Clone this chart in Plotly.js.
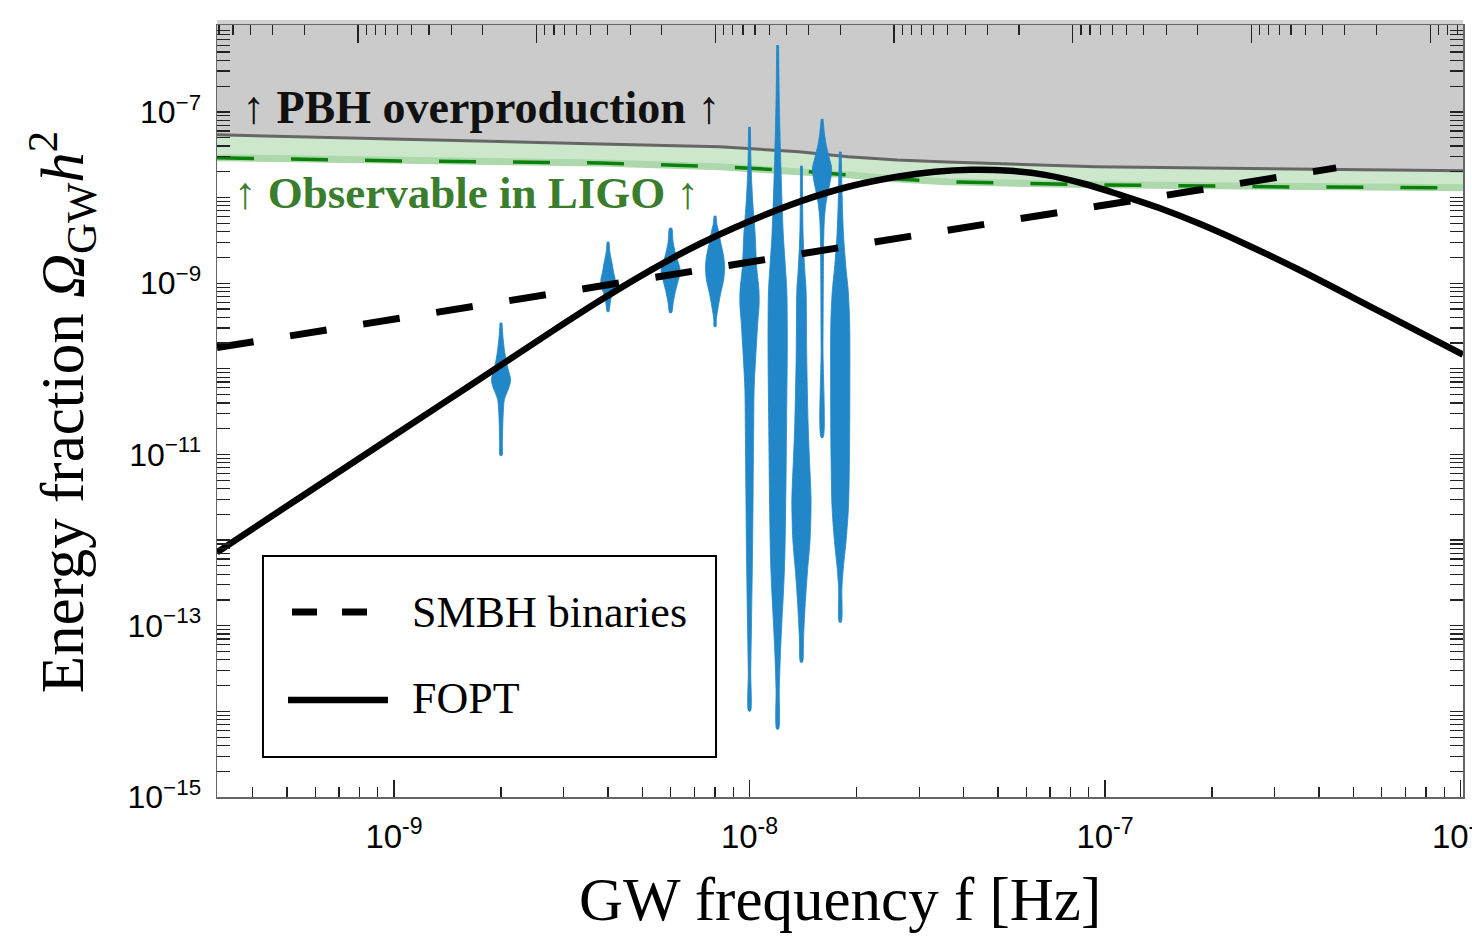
<!DOCTYPE html>
<html>
<head>
<meta charset="utf-8">
<script src="https://cdn.plot.ly/plotly-3.0.1.min.js"></script>
<style>html,body{margin:0;padding:0;background:#fff;}</style>
</head>
<body>
<div id="chart" style="width:1472px;height:937px;"></div>
<script>
// ---------------- data ----------------
// bound curves share one frequency grid [Hz]
const boundFreq = [3.178e-10, 1.040e-9, 3.797e-9, 8.26e-9, 1.377e-8, 1.893e-8, 2.60e-8, 3.593e-8, 9.37e-8, 3.357e-7, 1.016e-6];
const pbhOmega  = [5.40e-8, 4.84e-8, 4.23e-8, 3.91e-8, 3.42e-8, 2.99e-8, 2.75e-8, 2.61e-8, 2.29e-8, 2.16e-8, 2.05e-8];
const ligoOmega = [2.91e-8, 2.68e-8, 2.54e-8, 2.29e-8, 2.05e-8, 1.84e-8, 1.65e-8, 1.53e-8, 1.41e-8, 1.33e-8, 1.30e-8];

// SMBH binaries (dashed)
const smbhFreq  = [3.178e-10, 4.47e-7];
const smbhOmega = [1.77e-10, 2.22e-8];

// FOPT (solid)
const foptFreq  = [3.178e-10, 5.44e-10, 1.040e-9, 1.636e-9, 2.747e-9, 3.797e-9, 5.25e-9, 7.26e-9, 1.004e-8, 1.390e-8, 1.920e-8, 2.655e-8, 3.324e-8, 4.198e-8, 5.404e-8, 6.78e-8, 8.785e-8, 1.102e-7, 1.422e-7, 1.839e-7, 2.444e-7, 3.535e-7, 5.94e-7, 1.016e-6];
const foptOmega = [7.19e-13, 3.15e-12, 1.854e-11, 6.38e-11, 2.647e-10, 6.27e-10, 1.403e-9, 2.89e-9, 5.33e-9, 9.04e-9, 1.356e-8, 1.775e-8, 1.997e-8, 2.107e-8, 2.05e-8, 1.84e-8, 1.44e-8, 1.076e-8, 7.55e-9, 4.97e-9, 2.95e-9, 1.415e-9, 4.65e-10, 1.466e-10];

// PTA violins: frequency, log10(Omega) levels, relative density
const violinFreq = [2e-9, 4e-9, 6e-9, 8e-9, 1e-8, 1.2e-8, 1.4e-8, 1.6e-8, 1.8e-8];
const violinLevels = [
  [-9.461,-9.624,-9.776,-9.927,-10.067,-10.125,-10.207,-10.277,-10.359,-10.475,-10.673,-10.860,-11.012],
  [-8.516,-8.644,-8.761,-8.878,-8.959,-9.041,-9.111,-9.192,-9.274,-9.332],
  [-8.353,-8.376,-8.528,-8.691,-8.808,-8.878,-8.994,-9.111,-9.227,-9.344],
  [-8.213,-8.318,-8.376,-8.528,-8.691,-8.808,-8.959,-9.111,-9.274,-9.426,-9.507],
  [-7.175,-7.653,-8.050,-8.434,-8.819,-9.076,-9.251,-9.461,-9.857,-10.242,-10.627,-11.408,-12.190,-12.959,-13.542,-13.997],
  [-6.219,-6.883,-7.653,-8.434,-9.076,-9.426,-9.857,-10.627,-11.408,-12.190,-12.574,-12.959,-13.356,-13.741,-14.207],
  [-7.630,-8.434,-8.843,-9.076,-9.857,-10.627,-11.023,-11.525,-11.991,-12.376,-12.773,-13.157,-13.426],
  [-7.082,-7.268,-7.385,-7.536,-7.653,-7.758,-7.851,-8.050,-8.236,-8.434,-8.819,-9.776,-10.802],
  [-7.466,-8.050,-8.434,-8.819,-9.076,-9.461,-10.242,-11.023,-11.606,-11.991,-12.376,-12.574,-12.959]
];
const violinDensity = [
  [0.10,0.20,0.35,0.57,0.89,1.00,0.86,0.61,0.35,0.25,0.18,0.14,0.10],
  [0.10,0.20,0.41,0.59,0.75,0.69,0.48,0.28,0.18,0.10],
  [0.10,0.17,0.27,0.60,0.93,1.00,0.73,0.47,0.27,0.10],
  [0.10,0.20,0.33,0.60,0.90,1.00,0.90,0.60,0.33,0.13,0.10],
  [0.10,0.17,0.34,0.59,0.75,0.98,1.00,0.86,0.65,0.48,0.44,0.38,0.31,0.21,0.13,0.10],
  [0.10,0.17,0.34,0.59,0.95,1.00,1.00,0.93,0.86,0.75,0.62,0.44,0.28,0.17,0.10],
  [0.10,0.17,0.34,0.48,0.55,0.69,0.82,1.00,0.90,0.62,0.38,0.21,0.10],
  [0.10,0.26,0.43,0.75,1.00,0.93,0.78,0.43,0.25,0.18,0.14,0.10,0.10],
  [0.10,0.21,0.34,0.59,0.82,0.98,1.00,0.96,0.86,0.62,0.28,0.17,0.10]
];

// tick labels
const xTickVals = [1e-9, 1e-8, 1e-7, 1e-6];
const xTickText = ['10<sup>-9</sup>', '10<sup>-8</sup>', '10<sup>-7</sup>', '10<sup>-6</sup>'];
const yTickVals = [1e-15, 1e-13, 1e-11, 1e-9, 1e-7];
const yTickText = ['10<sup>−15</sup>', '10<sup>−13</sup>', '10<sup>−11</sup>', '10<sup>−9</sup>', '10<sup>−7</sup>'];

const legendLabels = ['SMBH binaries', 'FOPT'];

// ---------------- styling ----------------
const SERIF = 'Liberation Serif, DejaVu Serif, serif';
const VIOLIN_HALF_WIDTH = 0.027; // decades
const BLUE = '#2187c8';

function minorLog(lo, hi, withDecades) {
  const v = [];
  for (let n = lo; n <= hi; n++) {
    const k0 = withDecades ? 1 : 2;
    for (let k = k0; k <= 9; k++) v.push(k * Math.pow(10, n));
  }
  return v;
}

const traces = [];
// LIGO band fill (between LIGO line and PBH line)
traces.push({x: boundFreq, y: ligoOmega, mode: 'lines', line: {width: 0, color: 'rgba(0,0,0,0)'}, hoverinfo: 'skip', showlegend: false});
traces.push({x: boundFreq, y: pbhOmega, mode: 'lines', line: {width: 0, color: 'rgba(0,0,0,0)'}, fill: 'tonexty', fillcolor: '#cde7cd', hoverinfo: 'skip', showlegend: false});
// PBH region fill (up to top of plot)
const lastF = boundFreq[boundFreq.length - 1];
traces.push({x: boundFreq.concat([lastF, boundFreq[0]]), y: pbhOmega.concat([3e-6, 3e-6]), mode: 'lines', fill: 'toself', fillcolor: '#cbcbcb', line: {width: 0, color: 'rgba(0,0,0,0)'}, hoverinfo: 'skip', showlegend: false});
// LIGO lines
traces.push({x: boundFreq, y: ligoOmega, mode: 'lines', line: {width: 7, color: '#acd8ac'}, hoverinfo: 'skip', showlegend: false});
traces.push({x: boundFreq, y: ligoOmega, mode: 'lines', line: {width: 3.5, color: '#0b800b', dash: '37px,37px'}, hoverinfo: 'skip', showlegend: false});
// PBH line
traces.push({x: boundFreq, y: pbhOmega, mode: 'lines', line: {width: 3, color: '#666666'}, hoverinfo: 'skip', showlegend: false});

// violins
violinFreq.forEach(function (f, i) {
  const lv = violinLevels[i], dn = violinDensity[i];
  const xs = [], ys = [];
  for (let j = 0; j < lv.length; j++) { xs.push(f * Math.pow(10, VIOLIN_HALF_WIDTH * dn[j])); ys.push(Math.pow(10, lv[j])); }
  for (let j = lv.length - 1; j >= 0; j--) { xs.push(f * Math.pow(10, -VIOLIN_HALF_WIDTH * dn[j])); ys.push(Math.pow(10, lv[j])); }
  traces.push({x: xs, y: ys, mode: 'lines', fill: 'toself', fillcolor: BLUE, line: {width: 0.8, color: BLUE, shape: 'spline', smoothing: 0.8}, hoverinfo: 'skip', showlegend: false});
});

// SMBH binaries
traces.push({x: smbhFreq, y: smbhOmega, mode: 'lines', name: legendLabels[0], line: {width: 7, color: '#000', dash: '37px,37px'}, showlegend: false});
// FOPT
traces.push({x: foptFreq, y: foptOmega, mode: 'lines', name: legendLabels[1], line: {width: 6.5, color: '#000', shape: 'spline', smoothing: 1}, showlegend: false});
// dummy to show top axis
traces.push({x: [10], y: [1e-20], xaxis: 'x2', mode: 'markers', marker: {opacity: 0}, hoverinfo: 'skip', showlegend: false});

const tickColor = '#222';
const layout = {
  width: 1472, height: 937,
  margin: {l: 217, r: 9, t: 25, b: 140, pad: 0},
  paper_bgcolor: '#fff', plot_bgcolor: '#fff',
  showlegend: false,
  xaxis: {
    type: 'log', range: [-9.4979, -5.993],
    tickmode: 'array', tickvals: xTickVals, ticktext: xTickText,
    ticks: 'inside', ticklen: 17, tickwidth: 1.2, tickcolor: tickColor,
    minor: {ticks: 'inside', ticklen: 10, tickwidth: 1.2, tickcolor: tickColor, tickmode: 'array', tickvals: minorLog(-10, -7, false), showgrid: false},
    showline: true, linecolor: '#666', linewidth: 1.5, mirror: false,
    showgrid: false, zeroline: false,
    ticklabelstandoff: 10, ticklabeloverflow: 'allow',
    tickfont: {family: 'Liberation Sans Narrow, Liberation Sans, Arial, sans-serif', size: 33, color: '#000'}
  },
  xaxis2: {
    type: 'log', overlaying: 'x', side: 'top', anchor: 'y',
    range: [6.789, -0.184],
    tickmode: 'array', tickvals: [1, 10, 100, 1e3, 1e4, 1e5, 1e6, 1e7],
    showticklabels: false,
    ticks: 'inside', ticklen: 18, tickwidth: 1.2, tickcolor: tickColor,
    minor: {ticks: 'inside', ticklen: 10, tickwidth: 1.2, tickcolor: tickColor, tickmode: 'array', tickvals: minorLog(-1, 6, false), showgrid: false},
    showline: true, linecolor: '#666', linewidth: 1.5,
    showgrid: false, zeroline: false
  },
  yaxis: {
    type: 'log', range: [-15, -5.985],
    tickmode: 'array', tickvals: yTickVals, ticktext: yTickText,
    ticks: 'inside', ticklen: 13, tickwidth: 1.2, tickcolor: tickColor,
    minor: {ticks: 'inside', ticklen: 8, tickwidth: 1.2, tickcolor: tickColor, tickmode: 'array', tickvals: minorLog(-15, -7, true), showgrid: false},
    showline: true, linecolor: '#666', linewidth: 1.5, mirror: 'allticks',
    showgrid: false, zeroline: false,
    ticklabelstandoff: 8,
    tickfont: {family: 'Liberation Sans, Arial, sans-serif', size: 32, color: '#000'}
  },
  shapes: [
    // light strip above the top frame
    {type: 'rect', xref: 'paper', yref: 'paper', x0: 0, x1: 1, y0: 1, y1: 1 + 5/772, fillcolor: '#d2d2d2', line: {width: 0}, layer: 'below'},
    // legend box
    {type: 'rect', xref: 'paper', yref: 'paper', x0: 0.0369, x1: 0.4005, y0: 0.0518, y1: 0.3122, fillcolor: '#fff', line: {color: '#000', width: 2}},
    {type: 'line', xref: 'paper', yref: 'paper', x0: 0.0602, x1: 0.1204, y0: 0.2396, y1: 0.2396, line: {color: '#000', width: 7, dash: '25px,25px'}},
    {type: 'line', xref: 'paper', yref: 'paper', x0: 0.057, x1: 0.1372, y0: 0.1256, y1: 0.1256, line: {color: '#000', width: 6.5}}
  ],
  annotations: [
    {xref: 'paper', yref: 'paper', x: 0.0185, y: 0.8925, xanchor: 'left', yanchor: 'middle', showarrow: false,
     text: '<b>↑ PBH overproduction ↑</b>', font: {family: SERIF, size: 46, color: '#111'}},
    {xref: 'paper', yref: 'paper', x: 0.012, y: 0.7824, xanchor: 'left', yanchor: 'middle', showarrow: false,
     text: '<b>↑ Observable in LIGO ↑</b>', font: {family: SERIF, size: 45, color: '#3a7d2c'}},
    {xref: 'paper', yref: 'paper', x: 0.1549, y: 0.2396, xanchor: 'left', yanchor: 'middle', showarrow: false,
     text: legendLabels[0], font: {family: SERIF, size: 44, color: '#000'}},
    {xref: 'paper', yref: 'paper', x: 0.1549, y: 0.1282, xanchor: 'left', yanchor: 'middle', showarrow: false,
     text: legendLabels[1], font: {family: SERIF, size: 44, color: '#000'}},
    {xref: 'paper', yref: 'paper', x: 0.5, y: -0.1334, xanchor: 'center', yanchor: 'middle', showarrow: false,
     text: 'GW frequency f [Hz]', font: {family: SERIF, size: 61, color: '#000'}},
    {xref: 'paper', yref: 'paper', x: -0.125, y: 0.4987, xanchor: 'center', yanchor: 'middle', showarrow: false, textangle: -90,
     text: 'Energy fraction <i>Ω</i><sub>GW</sub><i>h</i><sup>2</sup>', font: {family: SERIF, size: 61, color: '#000'}}
  ]
};

Plotly.newPlot('chart', traces, layout, {staticPlot: true, displayModeBar: false});
</script>
</body>
</html>
